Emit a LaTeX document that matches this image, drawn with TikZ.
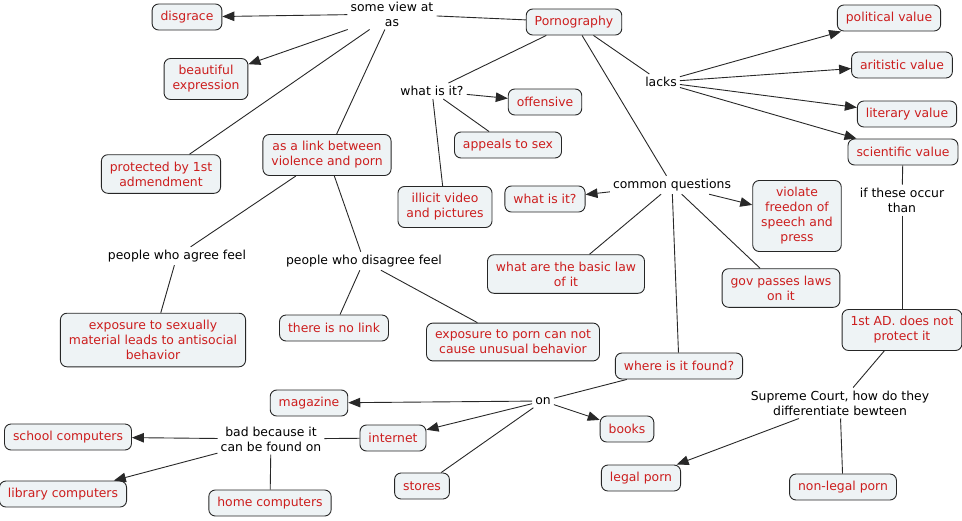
\documentclass[tikz,border=0pt]{standalone}
\usepackage{fontspec}
\setmainfont{DejaVu Sans}
\usetikzlibrary{arrows.meta}
\definecolor{conceptFill}{RGB}{238,243,245}
\definecolor{conceptText}{RGB}{204,30,30}
\definecolor{edgeGray}{RGB}{40,40,40}

\begin{document}
\begin{tikzpicture}[x=1pt, y=-1pt,
    every node/.style={font=\fontsize{12.4}{15}\selectfont, align=center},
    concept/.style={draw=black!85, line width=0.9pt, rounded corners=6.5pt,
      fill=conceptFill, text=conceptText, inner xsep=8.5pt, inner ysep=7pt,
      minimum height=26pt},
    phrase/.style={text=black, inner sep=3pt},
    link/.style={draw=edgeGray, line width=0.9pt},
    arrow/.style={link, -{Triangle[length=12pt, width=9.5pt]}}]

    % --- 1. frame ---
    \useasboundingbox (0,0) rectangle (962,520);

    % --- 2. concepts (boxes) ---
    \node[concept] (porn)       at (574,22)  {Pornography};
    \node[concept] (disgrace)   at (187,17)  {disgrace};
    \node[concept] (beautiful)  at (206,79)  {beautiful\\expression};
    \node[concept] (protected)  at (161,174) {protected by 1st\\admendment};
    \node[concept] (linkVP)     at (327,155) {as a link between\\violence and porn};
    \node[concept] (offensive)  at (545,102) {offensive};
    \node[concept] (appeals)    at (508,145) {appeals to sex};
    \node[concept] (illicit)    at (445,207) {illicit video\\and pictures};
    \node[concept] (whatBox)    at (545,199) {what is it?};
    \node[concept] (political)  at (889,18)  {political value};
    \node[concept] (artistic)   at (902,65)  {aritistic value};
    \node[concept] (literary)   at (907,114) {literary value};
    \node[concept] (scientific) at (903,152) {scientific value};
    \node[concept] (violate)    at (797,216) {violate\\freedon of\\speech and\\press};
    \node[concept] (basicLaw)   at (566,274) {what are the basic law\\of it};
    \node[concept] (govLaws)    at (781,288) {gov passes laws\\on it};
    \node[concept] (antisocial) at (153,340) {exposure to sexually\\material leads to antisocial\\behavior};
    \node[concept] (noLink)     at (334,328) {there is no link};
    \node[concept] (unusual)    at (513,342) {exposure to porn can not\\cause unusual behavior};
    \node[concept] (whereFound) at (679,366) {where is it found?};
    \node[concept] (notProtect) at (902,330) {1st AD. does not\\protect it};
    \node[concept] (magazine)   at (309,403) {magazine};
    \node[concept] (books)      at (627,429) {books};
    \node[concept] (internet)   at (393,438) {internet};
    \node[concept] (stores)     at (422,486) {stores};
    \node[concept] (legal)      at (641,478) {legal porn};
    \node[concept] (nonLegal)   at (843,487) {non-legal porn};
    \node[concept] (school)     at (68,437)  {school computers};
    \node[concept] (library)    at (63,494)  {library computers};
    \node[concept] (home)       at (270,503) {home computers};

    % --- 3. linking phrases ---
    \node[phrase] (viewAs)    at (392,14)  {some view at\\as};
    \node[phrase] (whatIs)    at (432,91)  {what is it?};
    \node[phrase] (lacks)     at (661,82)  {lacks};
    \node[phrase] (questions) at (672,185) {common questions};
    \node[phrase] (ifOccur)   at (902,200) {if these occur\\than};
    \node[phrase] (agree)     at (177,256) {people who agree feel};
    \node[phrase] (disagree)  at (364,261) {people who disagree feel};
    \node[phrase] (onWhere)   at (543,401) {on};
    \node[phrase] (badFound)  at (271,439) {bad because it\\can be found on};
    \node[phrase] (supreme)   at (840,403) {Supreme Court, how do they\\differentiate bewteen};

    % --- 4. connectors ---
    % views
    \draw[link]  (porn) -- (viewAs);
    \draw[arrow] (viewAs) -- (disgrace);
    \draw[arrow] (viewAs) -- (beautiful);
    \draw[link]  (viewAs) -- (protected);
    \draw[link]  (viewAs) -- (linkVP);
    \draw[link]  (linkVP) -- (agree);
    \draw[link]  (agree) -- (antisocial);
    \draw[link]  (linkVP) -- (disagree);
    \draw[link]  (disagree) -- (noLink);
    \draw[link]  (disagree) -- (unusual);

    % what is it
    \draw[link]  (porn) -- (whatIs);
    \draw[arrow] (whatIs) -- (offensive);
    \draw[link]  (whatIs) -- (appeals);
    \draw[link]  (whatIs) -- (illicit);

    % lacks
    \draw[link]  (porn) -- (lacks);
    \foreach \v in {political, artistic, literary, scientific}
      \draw[arrow] (lacks) -- (\v);
    \draw[link]  (scientific) -- (ifOccur);
    \draw[link]  (ifOccur) -- (notProtect);
    \draw[link]  (notProtect) -- (supreme);
    \draw[arrow] (supreme) -- (legal);
    \draw[link]  (supreme) -- (nonLegal);

    % common questions
    \draw[link]  (porn) -- (questions);
    \draw[arrow] (questions) -- (whatBox);
    \draw[arrow] (questions) -- (violate);
    \draw[link]  (questions) -- (basicLaw);
    \draw[link]  (questions) -- (govLaws);
    \draw[link]  (questions) -- (whereFound);

    % where is it found
    \draw[link]  (whereFound) -- (onWhere);
    \draw[arrow] (onWhere) -- (magazine);
    \draw[arrow] (onWhere) -- (internet);
    \draw[arrow] (onWhere) -- (books);
    \draw[link]  (onWhere) -- (stores);
    \draw[link]  (internet) -- (badFound);
    \draw[arrow] (badFound) -- (school);
    \draw[arrow] (badFound) -- (library);
    \draw[link]  (badFound) -- (home);

  \end{tikzpicture}
\end{document}
